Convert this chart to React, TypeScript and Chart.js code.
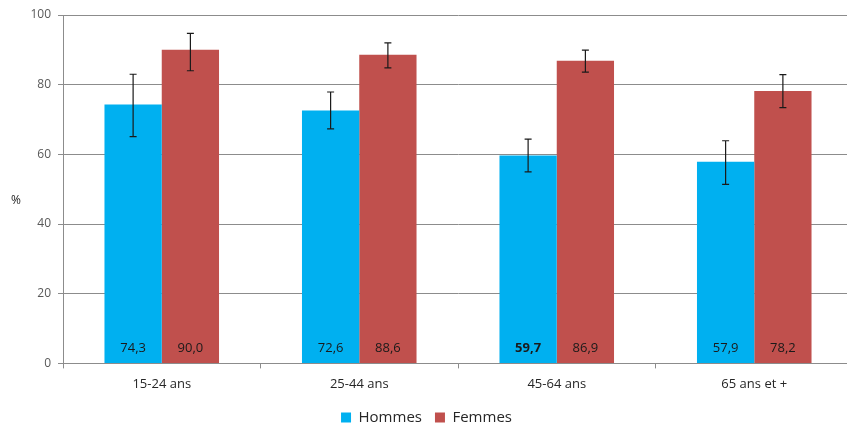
import React, { useEffect, useRef } from "react";
import { Chart, registerables } from "chart.js";

Chart.register(...registerables);

const categories = ["15-24 ans", "25-44 ans", "45-64 ans", "65 ans et +"];
const hommes = [74.3, 72.6, 59.7, 57.9];
const femmes = [90.0, 88.6, 86.9, 78.2];
const hommesErrLow = [65.1, 67.3, 55.0, 51.4];
const hommesErrHigh = [83.0, 77.9, 64.4, 63.9];
const femmesErrLow = [84.0, 84.8, 83.6, 73.4];
const femmesErrHigh = [94.7, 92.0, 89.9, 82.9];
const boldLabels = [[false, false, true, false], [false, false, false, false]];

const FONT = "'Open Sans', 'Liberation Sans', sans-serif";
const GRID = "#8c8c8c";

const errLows = [hommesErrLow, femmesErrLow];
const errHighs = [hommesErrHigh, femmesErrHigh];

const extrasPlugin = {
  id: "extras",
  afterDatasetsDraw(chart: any) {
    const ctx = chart.ctx;
    const yScale = chart.scales.y;
    ctx.save();
    chart.data.datasets.forEach((ds: any, di: number) => {
      const meta = chart.getDatasetMeta(di);
      meta.data.forEach((el: any, i: number) => {
        const x = el.x;
        // error bars
        const yl = yScale.getPixelForValue(errLows[di][i]);
        const yh = yScale.getPixelForValue(errHighs[di][i]);
        ctx.strokeStyle = "#1a1a1a";
        ctx.lineWidth = 1.2;
        ctx.beginPath();
        ctx.moveTo(x, yl);
        ctx.lineTo(x, yh);
        ctx.moveTo(x - 3.5, yl);
        ctx.lineTo(x + 3.5, yl);
        ctx.moveTo(x - 3.5, yh);
        ctx.lineTo(x + 3.5, yh);
        ctx.stroke();
        // value labels
        const v = ds.data[i] as number;
        const txt = v.toFixed(1).replace(".", ",");
        ctx.fillStyle = "#1a1a1a";
        ctx.font = (boldLabels[di][i] ? "bold " : "") + "13px " + FONT;
        ctx.textAlign = "center";
        ctx.textBaseline = "middle";
        ctx.fillText(txt, x, yScale.getPixelForValue(0) - 15);
      });
    });
    // axis title "%"
    ctx.fillStyle = "#262626";
    ctx.font = "12px " + FONT;
    ctx.textAlign = "center";
    ctx.textBaseline = "middle";
    ctx.fillText("%", 16, 201);
    ctx.restore();
  },
};

export default function App() {
  const ref = useRef<HTMLCanvasElement>(null);
  useEffect(() => {
    if (!ref.current) return;
    const chart = new Chart(ref.current, {
      type: "bar",
      data: {
        labels: categories,
        datasets: [
          { label: "Hommes", data: hommes, backgroundColor: "#00B0F0", categoryPercentage: 0.58, barPercentage: 1 },
          { label: "Femmes", data: femmes, backgroundColor: "#C0504D", categoryPercentage: 0.58, barPercentage: 1 },
        ],
      },
      options: {
        responsive: false,
        animation: false,
        devicePixelRatio: 1,
        layout: { padding: { top: 15, right: 0, left: 0, bottom: 0 } },
        plugins: {
          legend: {
            position: "bottom",
            labels: {
              boxWidth: 10,
              boxHeight: 10,
              padding: 13,
              color: "#262626",
              font: { family: FONT, size: 15 },
            },
          },
          tooltip: { enabled: false },
        },
        scales: {
          x: {
            afterFit(scale: any) {
              scale.height -= 3;
            },
            grid: { display: true, drawOnChartArea: false, drawTicks: true, tickLength: 5, color: GRID, offset: true },
            border: { display: true, color: GRID },
            ticks: { color: "#262626", font: { family: FONT, size: 13 }, padding: 8 },
          },
          y: {
            min: 0,
            max: 100,
            afterFit(scale: any) {
              scale.width = 63;
            },
            ticks: { stepSize: 20, color: "#595959", font: { family: FONT, size: 12 }, padding: 7 },
            grid: { color: GRID, tickLength: 5, drawTicks: true },
            border: { display: true, color: GRID },
          },
        },
      },
      plugins: [extrasPlugin],
    });
    return () => chart.destroy();
  }, []);
  return (
    <div style={{ position: "fixed", left: 0, top: 0, width: 853, height: 435, background: "#fff" }}>
      <canvas ref={ref} width={853} height={435} style={{ width: 853, height: 435 }} />
    </div>
  );
}
